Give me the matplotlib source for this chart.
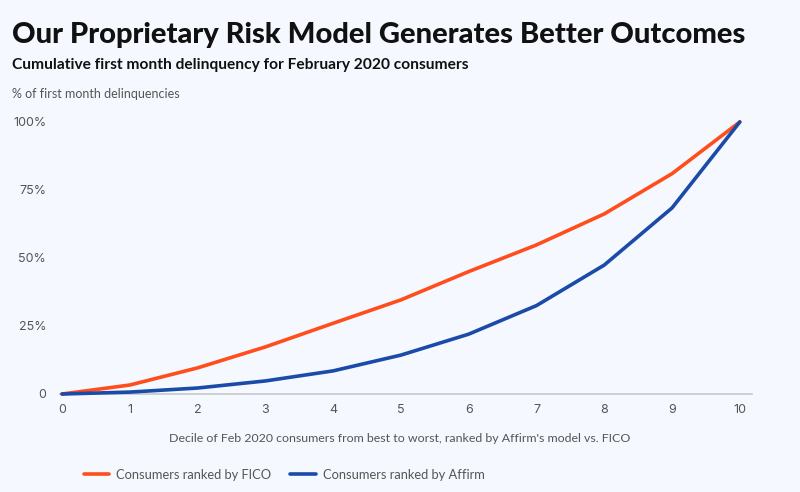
import matplotlib
matplotlib.use("Agg")
import matplotlib.pyplot as plt

deciles = list(range(0, 11))
fico = [0, 3.3, 9.6, 17.3, 26.0, 34.6, 45.0, 54.8, 66.2, 81.0, 100]
affirm = [0, 0.7, 2.2, 4.8, 8.5, 14.3, 22.0, 32.5, 47.4, 68.4, 100]
yticks = [0, 25, 50, 75, 100]
ytick_labels = ["0", "25%", "50%", "75%", "100%"]

title = "Our Proprietary Risk Model Generates Better Outcomes"
subtitle = "Cumulative first month delinquency for February 2020 consumers"
ylabel = "% of first month delinquencies"
xlabel = "Decile of Feb 2020 consumers from best to worst, ranked by Affirm's model vs. FICO"
series_names = ["Consumers ranked by FICO", "Consumers ranked by Affirm"]

BG = "#F5F8FE"
ORANGE = "#FF4E1C"
BLUE = "#1A4BA8"
GRAY = "#555555"

W, H = 800, 492
fig = plt.figure(figsize=(8, 4.92), dpi=100, facecolor=BG)
ax = fig.add_axes([60 / W, (H - 394) / H, (752 - 60) / W, (394 - 110) / H])
ax.set_facecolor(BG)

l1, = ax.plot(deciles, fico, color=ORANGE, lw=2.6, solid_capstyle="round", clip_on=False, zorder=3)
l2, = ax.plot(deciles, affirm, color=BLUE, lw=2.6, solid_capstyle="round", clip_on=False, zorder=3)

ax.set_xlim(-0.03, 10.18)
ax.set_ylim(0, 104.4)
ax.set_xticks(deciles)
ax.set_yticks(yticks)
ax.set_yticklabels(ytick_labels)
for s in ["top", "right", "left"]:
    ax.spines[s].set_visible(False)
ax.spines["bottom"].set_color("#C4C8CC")
ax.spines["bottom"].set_linewidth(1.2)
ax.tick_params(axis="both", length=0, labelsize=9, colors=GRAY)
ax.tick_params(axis="y", pad=10)
ax.tick_params(axis="x", pad=7)
for t in ax.get_xticklabels() + ax.get_yticklabels():
    t.set_fontfamily("Inter")

fig.text(12 / W, 1 - 35 / H, title, fontsize=21, fontweight=900, family="Lato", va="center", ha="left", color="#111111")
fig.text(12 / W, 1 - 65 / H, subtitle, fontsize=11.2, fontweight="bold", family="Lato", va="center", ha="left", color="#111111")
fig.text(12 / W, 1 - 94 / H, ylabel, fontsize=9, family="Lato", va="center", ha="left", color=GRAY)
fig.text(400 / W, 1 - 438 / H, xlabel, fontsize=8.9, family="Lato", va="center", ha="center", color=GRAY)

leg = fig.legend([l1, l2], series_names, loc="center left", bbox_to_anchor=(72 / W, 1 - 475 / H),
                 ncol=2, frameon=False, handlelength=2.0, handletextpad=0.5, columnspacing=1.5,
                 prop={"family": "Lato", "size": 9.3})
for t in leg.get_texts():
    t.set_color(GRAY)

fig.savefig("out.png", dpi=100, facecolor=BG)
